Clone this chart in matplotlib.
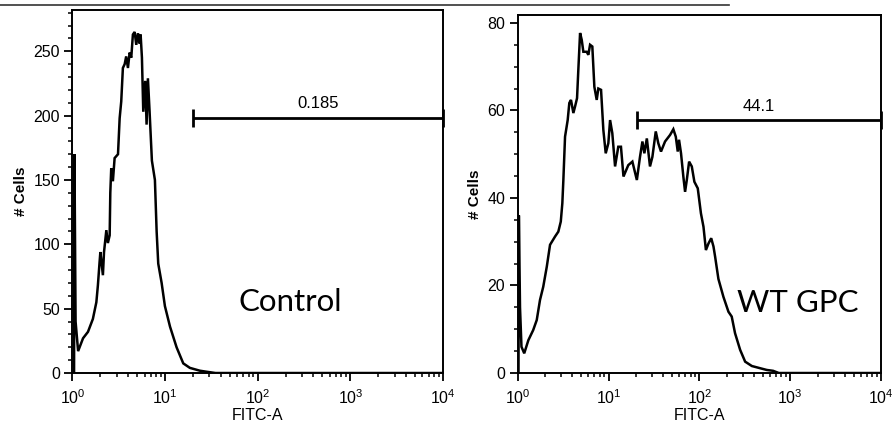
import numpy as np
import matplotlib
matplotlib.use("Agg")
from matplotlib import pyplot as plt
from matplotlib.lines import Line2D
from matplotlib.ticker import FixedLocator, MultipleLocator, NullFormatter

plt.rcParams["font.family"] = ["Liberation Sans", "DejaVu Sans"]
plt.rcParams["mathtext.fontset"] = "custom"
plt.rcParams["mathtext.rm"] = "Liberation Sans"
plt.rcParams["mathtext.it"] = "Liberation Sans:italic"
plt.rcParams["mathtext.bf"] = "Liberation Sans:bold"

# Control histogram (FITC-A intensity, cell count)
ctrl_x = [1.04, 1.05, 1.08, 1.15, 1.30, 1.47, 1.66, 1.81, 1.88, 1.96, 2.00, 2.13, 2.19, 2.32,
          2.41, 2.52, 2.56, 2.62, 2.73, 2.85, 3.10, 3.23, 3.36, 3.50, 3.66, 3.80, 3.97, 4.14,
          4.31, 4.49, 4.69, 4.88, 5.09, 5.31, 5.44, 5.62, 5.81, 6.10, 6.31, 6.52, 6.80, 7.20,
          7.76, 8.10, 8.43, 9.17, 9.95, 11.3, 13.3, 15.7, 18.5, 23.7, 28.0, 35.0, 10000]
ctrl_y = [0, 170, 40, 17, 27, 32, 42, 55, 68, 86, 94, 76, 94, 111,
          101, 107, 140, 159, 149, 167, 170, 198, 211, 237, 240, 246, 237, 249,
          245, 263, 265, 255, 264, 256, 263, 245, 203, 227, 193, 229, 203, 165,
          150, 110, 85, 70, 52, 36, 20, 7.5, 4, 1.8, 1, 0, 0]

# WT GPC histogram
gpc_x = [1.02, 1.03, 1.06, 1.10, 1.18, 1.31, 1.48, 1.62, 1.76, 1.91, 2.09, 2.27, 2.58, 2.80,
         2.98, 3.10, 3.18, 3.32, 3.55, 3.70, 3.86, 4.10, 4.28, 4.50, 4.65, 4.86, 5.07, 5.28,
         5.75, 5.99, 6.26, 6.63, 6.98, 7.41, 7.72, 8.27, 8.77, 9.31, 9.95, 10.4, 11.0, 11.8,
         12.8, 13.7, 14.6, 16.5, 18.3, 20.5, 22.2, 23.6, 24.8, 26.4, 28.6, 30.4, 33.1, 35.3,
         37.8, 41.9, 47.6, 51.7, 55.0, 57.8, 59.7, 62.8, 66.6, 69.6, 72.7, 77.1, 82.5, 88.1,
         96.0, 104, 111, 118, 126, 135, 143, 149, 162, 184, 209, 227, 247, 281,
         319, 378, 466, 552, 649, 750, 10000]
gpc_y = [0, 36, 15, 6, 4.5, 7.5, 9.8, 12.1, 16.7, 19.7, 24.3, 29.3, 31.2, 32.3,
         34.6, 38.8, 44, 54, 57.8, 61.7, 62.4, 59.4, 60.9, 62.8, 69.3, 77.7, 76.1, 73.4,
         73.4, 72.7, 75, 74.6, 65.4, 62.4, 65, 64.7, 55.5, 50.2, 52.5, 57.8, 54.8, 47.2,
         51.7, 51.7, 44.9, 47.5, 48.3, 44.1, 49.4, 52.9, 50.2, 53.6, 47.2, 49.4, 55.2, 52.5,
         50.6, 52.9, 54.4, 55.7, 54, 50.6, 53.3, 50.2, 44.9, 41.4, 44.1, 48.3, 47.2, 43.7,
         42.2, 36.5, 33.4, 28.1, 29.6, 30.8, 28.9, 26.6, 21.5, 17.4, 14, 12.9, 9.1, 5.3,
         2.6, 1.6, 1.1, 0.7, 0.5, 0, 0]

x_ticks = [1, 10, 100, 1000, 10000]
x_labels = [r"$10^{0}$", r"$10^{1}$", r"$10^{2}$", r"$10^{3}$", r"$10^{4}$"]

ctrl_gate = (20, 10000, 198, "0.185")
gpc_gate = (20.5, 10000, 57.7, "44.1")


def draw_panel(ax, x, y, ymax, ymajor, yminor, gate):
    ax.plot(x, y, color="black", lw=1.8, solid_joinstyle="miter")
    ax.set_xscale("log")
    ax.set_xlim(1, 10000)
    ax.set_ylim(0, ymax)

    ax.xaxis.set_major_locator(FixedLocator(x_ticks))
    ax.set_xticklabels(x_labels)
    minors = [m * 10 ** d for d in range(4) for m in range(2, 10)]
    ax.xaxis.set_minor_locator(FixedLocator(minors))
    ax.xaxis.set_minor_formatter(NullFormatter())
    ax.yaxis.set_major_locator(MultipleLocator(ymajor))
    ax.yaxis.set_minor_locator(MultipleLocator(yminor))

    ax.tick_params(which="major", length=6, width=1.3, labelsize=11.5, pad=3, direction="out")
    ax.tick_params(axis="x", which="major", pad=5)
    ax.tick_params(which="minor", length=3, width=1.1, direction="out")
    ax.tick_params(top=False, right=False)
    for s in ax.spines.values():
        s.set_linewidth(1.4)

    ax.set_xlabel("FITC-A", fontsize=11.5, labelpad=1)
    ax.set_ylabel("# Cells", fontsize=11, fontweight="bold", labelpad=4)

    x0, x1, gy, lab = gate
    ax.plot([x0, x1], [gy, gy], color="black", lw=2.0, marker="|", ms=13, mew=2.0,
            clip_on=False, solid_capstyle="butt")
    ax.annotate(lab, xy=(np.sqrt(x0 * x1), gy), xytext=(0, 5), textcoords="offset points",
                ha="center", va="bottom", fontsize=12)

    return ax


fig = plt.figure(figsize=(8.96, 4.29), dpi=100)
ax1 = fig.add_axes([0.0809, 0.1305, 0.4135, 0.846])
ax2 = fig.add_axes([0.5778, 0.1305, 0.4055, 0.8345])

draw_panel(ax1, ctrl_x, ctrl_y, 282, 50, 10, ctrl_gate)
draw_panel(ax2, gpc_x, gpc_y, 81.8, 20, 5, gpc_gate)

ax1.text(0.587, 0.196, "Control", transform=ax1.transAxes, ha="center", va="center",
         fontsize=22.5, family=["Lato", "DejaVu Sans"])
ax2.text(0.772, 0.196, "WT GPC", transform=ax2.transAxes, ha="center", va="center",
         fontsize=22.5, family=["Lato", "DejaVu Sans"])

# thin rule across the top of the figure
fig.add_artist(Line2D([0, 0.8136], [0.9883, 0.9883], transform=fig.transFigure,
                      color="#333333", lw=1.2))

fig.savefig("out.png", dpi=100)
